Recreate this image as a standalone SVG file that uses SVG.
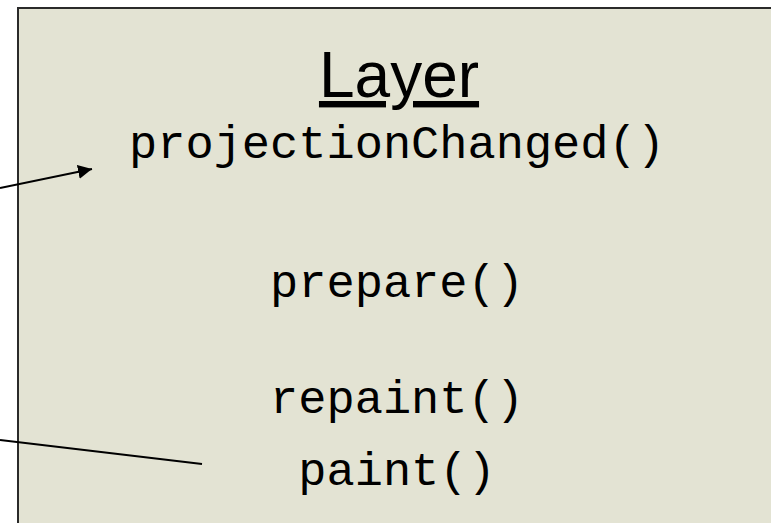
<svg xmlns="http://www.w3.org/2000/svg" width="771" height="523" viewBox="0 0 771 523">
<style>
.mono{font-family:"Liberation Mono","Courier New",monospace;font-size:47px;fill:#000;text-anchor:middle}
.title{font-family:"Liberation Sans",Arial,sans-serif;font-size:64px;fill:#000;text-anchor:middle;text-decoration:underline}
.conn{stroke:#000;stroke-width:2;fill:none}
</style>
<defs>
<marker id="arrow" viewBox="0 0 10 10" refX="10" refY="5" markerWidth="7" markerHeight="7" markerUnits="strokeWidth" orient="auto">
<path d="M0,0 L10,5 L0,10 z" fill="#000"/>
</marker>
</defs>
<rect width="771" height="523" fill="#fff"/>
<g id="layer">
<rect x="18" y="8" width="800" height="600" fill="#e3e3d3" stroke="#2a2a2a" stroke-width="2"/>
<text class="title" x="399" y="97">Layer</text>
<text class="mono" x="397" y="158">projectionChanged()</text>
<text class="mono" x="397" y="297">prepare()</text>
<text class="mono" x="397" y="413">repaint()</text>
<text class="mono" x="397" y="485">paint()</text>
</g>
<g id="connectors">
<line class="conn" x1="0" y1="188" x2="92" y2="169" marker-end="url(#arrow)"/>
<line class="conn" x1="0" y1="440" x2="202" y2="464"/>
</g>
</svg>
